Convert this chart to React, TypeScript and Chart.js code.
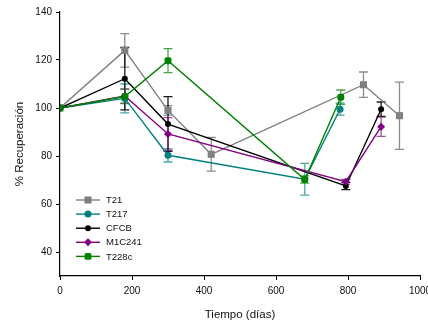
import React, { useEffect, useRef } from 'react';
import { Chart, registerables } from 'chart.js';

Chart.register(...registerables);

// ---- data ----
const seriesNames = ['T21', 'T217', 'CFCB', 'M1C241', 'T228c'];

const t21Days = [0, 180, 300, 420, 843, 943];
const t21Values = [100, 124, 99, 80.7, 109.7, 96.8];
const t21Errors = [0, 7, 2, 7, 5.3, 14];

const t217Days = [0, 180, 300, 680, 778];
const t217Values = [100, 104, 80.3, 70.3, 99.5];
const t217Errors = [0, 6, 2.8, 6.6, 2.5];

const cfcbDays = [0, 180, 300, 794, 892];
const cfcbValues = [100, 112.2, 93.3, 67.5, 99.5];
const cfcbErrors = [0, 13, 11.4, 1.5, 3];

const m1c241Days = [0, 180, 300, 794, 892];
const m1c241Values = [100, 105, 89.2, 69.3, 92.2];
const m1c241Errors = [0, 3, 6.8, 1, 4];

const t228cDays = [0, 180, 300, 680, 780];
const t228cValues = [100, 104.8, 119.7, 70.2, 104.5];
const t228cErrors = [0, 3, 5, 1.5, 3];

const xTicks = [0, 200, 400, 600, 800, 1000];
const yTicks = [40, 60, 80, 100, 120, 140];

const xTitle = 'Tiempo (días)';
const yTitle = '% Recuperación';

// ---- styles ----
const seriesDays = [t21Days, t217Days, cfcbDays, m1c241Days, t228cDays];
const seriesValues = [t21Values, t217Values, cfcbValues, m1c241Values, t228cValues];
const seriesErrors = [t21Errors, t217Errors, cfcbErrors, m1c241Errors, t228cErrors];
const seriesColors = ['#808080', '#008080', '#000000', '#800080', '#008000'];
const errorColors = ['rgba(128,128,128,0.9)', 'rgba(0,128,128,0.7)', 'rgba(0,0,0,0.9)', 'rgba(128,0,128,0.7)', 'rgba(0,128,0,0.7)'];
const seriesPointStyles = ['rect', 'circle', 'circle', 'rectRot', 'rectRounded'];
const seriesRadii = [5, 3.5, 3, 4, 4];

const FONT = "'Liberation Sans', Arial, sans-serif";

function drawMarker(ctx: CanvasRenderingContext2D, style: string, x: number, y: number, r: number, color: string) {
  ctx.save();
  ctx.fillStyle = color;
  ctx.beginPath();
  if (style === 'rect') {
    const s = Math.SQRT1_2 * r;
    ctx.rect(x - s, y - s, 2 * s, 2 * s);
  } else if (style === 'rectRot') {
    ctx.moveTo(x, y - r);
    ctx.lineTo(x + r, y);
    ctx.lineTo(x, y + r);
    ctx.lineTo(x - r, y);
    ctx.closePath();
  } else if (style === 'rectRounded') {
    const s = r * 0.85;
    const c = r * 0.4;
    ctx.moveTo(x - s + c, y - s);
    ctx.lineTo(x + s - c, y - s);
    ctx.quadraticCurveTo(x + s, y - s, x + s, y - s + c);
    ctx.lineTo(x + s, y + s - c);
    ctx.quadraticCurveTo(x + s, y + s, x + s - c, y + s);
    ctx.lineTo(x - s + c, y + s);
    ctx.quadraticCurveTo(x - s, y + s, x - s, y + s - c);
    ctx.lineTo(x - s, y - s + c);
    ctx.quadraticCurveTo(x - s, y - s, x - s + c, y - s);
  } else {
    ctx.arc(x, y, r, 0, Math.PI * 2);
  }
  ctx.fill();
  ctx.restore();
}

const errorBarPlugin = {
  id: 'errorBars',
  beforeDatasetsDraw(chart: any) {
    const ctx = chart.ctx as CanvasRenderingContext2D;
    const xs = chart.scales.x;
    const ys = chart.scales.y;
    chart.data.datasets.forEach((ds: any, i: number) => {
      const errs = seriesErrors[i];
      ds.data.forEach((p: any, j: number) => {
        const e = errs[j];
        if (!e) return;
        const px = xs.getPixelForValue(p.x);
        const top = ys.getPixelForValue(p.y + e);
        const bot = ys.getPixelForValue(p.y - e);
        ctx.save();
        ctx.strokeStyle = errorColors[i];
        ctx.lineWidth = 1.3;
        ctx.beginPath();
        ctx.moveTo(px, top);
        ctx.lineTo(px, bot);
        ctx.moveTo(px - 4.5, top);
        ctx.lineTo(px + 4.5, top);
        ctx.moveTo(px - 4.5, bot);
        ctx.lineTo(px + 4.5, bot);
        ctx.stroke();
        ctx.restore();
      });
    });
  },
};

const legendPlugin = {
  id: 'insideLegend',
  afterDraw(chart: any) {
    const ctx = chart.ctx as CanvasRenderingContext2D;
    const area = chart.chartArea;
    const x0 = area.left + 16;
    const y0 = area.top + 188;
    const step = 14.1;
    seriesNames.forEach((name, i) => {
      const y = y0 + i * step;
      ctx.save();
      ctx.strokeStyle = seriesColors[i];
      ctx.lineWidth = 1.4;
      ctx.beginPath();
      ctx.moveTo(x0, y);
      ctx.lineTo(x0 + 24, y);
      ctx.stroke();
      ctx.restore();
      drawMarker(ctx, seriesPointStyles[i], x0 + 12, y, seriesRadii[i], seriesColors[i]);
      ctx.save();
      ctx.fillStyle = '#111';
      ctx.font = `9.5px ${FONT}`;
      ctx.textAlign = 'left';
      ctx.textBaseline = 'middle';
      ctx.fillText(name, x0 + 30, y + 0.5);
      ctx.restore();
    });
  },
};

export default function App() {
  const canvasRef = useRef<HTMLCanvasElement | null>(null);

  useEffect(() => {
    if (!canvasRef.current) return;
    Chart.defaults.font.family = FONT;
    const datasets = seriesNames.map((name, i) => ({
      label: name,
      data: seriesDays[i].map((d, j) => ({ x: d, y: seriesValues[i][j] })),
      borderColor: seriesColors[i],
      backgroundColor: seriesColors[i],
      pointBackgroundColor: seriesColors[i],
      pointBorderColor: seriesColors[i],
      pointBorderWidth: 0,
      pointStyle: seriesPointStyles[i],
      pointRadius: seriesRadii[i],
      borderWidth: 1.4,
      tension: 0,
      fill: false,
      order: seriesNames.length - i,
    }));
    const chart = new Chart(canvasRef.current, {
      type: 'line',
      data: { datasets },
      plugins: [errorBarPlugin, legendPlugin],
      options: {
        animation: false,
        responsive: false,
        devicePixelRatio: 1,
        layout: { padding: { top: 12, left: 0, right: 30, bottom: 0 } },
        plugins: { legend: { display: false }, tooltip: { enabled: false } },
        scales: {
          x: {
            type: 'linear',
            min: 0,
            max: 1000,
            afterBuildTicks: (scale: any) => {
              scale.ticks = xTicks.map((v) => ({ value: v }));
            },
            afterFit: (scale: any) => {
              scale.height = 50;
              scale.paddingLeft = 0;
              scale.paddingRight = 0;
            },
            grid: { drawOnChartArea: false, drawTicks: true, tickLength: 4, color: '#000', lineWidth: 1 },
            border: { color: '#000', width: 1.2 },
            ticks: {
              color: '#111',
              font: { size: 10, family: FONT },
              padding: 5,
              maxRotation: 0,
              callback: (v: any) => String(v),
            },
            title: { display: true, text: xTitle, color: '#111', font: { size: 11.5, family: FONT }, padding: { top: 0, bottom: 4 } },
          },
          y: {
            type: 'linear',
            min: 30,
            max: 140,
            afterBuildTicks: (scale: any) => {
              scale.ticks = yTicks.map((v) => ({ value: v }));
            },
            afterFit: (scale: any) => {
              scale.width = 60;
              scale.paddingTop = 0;
              scale.paddingBottom = 0;
            },
            grid: { drawOnChartArea: false, drawTicks: true, tickLength: 4, color: '#000', lineWidth: 1 },
            border: { color: '#000', width: 1.2 },
            ticks: { color: '#111', font: { size: 10, family: FONT }, padding: 4, callback: (v: any) => String(v) },
            title: { display: true, text: yTitle, color: '#111', font: { size: 11.5, family: FONT }, padding: { top: 13, bottom: 0 } },
          },
        },
      },
    });
    return () => chart.destroy();
  }, []);

  return (
    <div style={{ position: 'fixed', left: 0, top: 0, width: 428, height: 326, overflow: 'hidden', background: '#fff' }}>
      <canvas ref={canvasRef} width={450} height={326} style={{ display: 'block', width: 450, height: 326 }} />
    </div>
  );
}
